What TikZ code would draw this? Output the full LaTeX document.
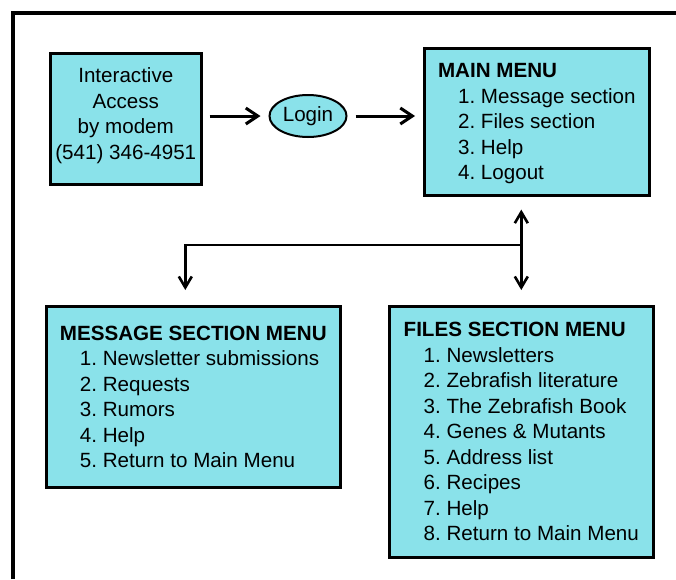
\documentclass[tikz,border=0pt]{standalone}
\usepackage{fontspec}
\setmainfont{Liberation Sans}
\usepackage{tikz}
\usetikzlibrary{arrows.meta,positioning,shapes.geometric}
\definecolor{menucyan}{RGB}{138,226,234}
\newcommand{\opt}{\hspace*{20pt}}
\frenchspacing

\begin{document}
\begin{tikzpicture}[x=1pt,y=-1pt,
  box/.style={draw,line width=2.6pt,fill=menucyan,anchor=north west,align=left,inner sep=0pt,font=\fontsize{20.6}{25.5}\selectfont},
  arr/.style={line width=3pt,-{Straight Barb[length=12pt,width=16pt]}},
  link/.style={line width=2.6pt,-{Straight Barb[length=11pt,width=13pt]}}]
  \useasboundingbox (0,0) rectangle (676,579);
  % page frame
  \draw[line width=4pt] (12.5,579) |- (676,12.5);
  \node[box,minimum width=151pt,minimum height=131pt,align=center,text depth=11pt] (modem) at (49,52)
    {Interactive\\Access\\by modem\\(541) 346-4951};
  \node[draw,ellipse,line width=2pt,fill=menucyan,minimum width=77pt,minimum height=42pt,inner sep=0pt,
    font=\fontsize{20.6}{25.5}\selectfont] (login) at (308,116) {Login};
  \node[box,minimum width=225pt,minimum height=147pt,text depth=0pt] (main) at (423,47)
    {\textbf{MAIN MENU}\\\opt 1. Message section\\\opt 2. Files section\\\opt 3. Help\\\opt 4. Logout};
  \node[box,minimum width=294pt,minimum height=181pt] (msg) at (45,305)
    {\textbf{MESSAGE SECTION MENU}\\\opt 1. Newsletter submissions\\\opt 2. Requests\\\opt 3. Rumors\\\opt 4. Help\\\opt 5. Return to Main Menu};
  \node[box,minimum width=264pt,minimum height=251pt] (files) at (388,305)
    {\textbf{FILES SECTION MENU}\\\opt 1. Newsletters\\\opt 2. Zebrafish literature\\\opt 3. The Zebrafish Book\\\opt 4. Genes \& Mutants\\\opt 5. Address list\\\opt 6. Recipes\\\opt 7. Help\\\opt 8. Return to Main Menu};
  % connectors
  \draw[arr,shorten <=7pt,shorten >=8pt] (modem.east |- login.west) -- (login.west);
  \draw[arr,shorten <=8pt,shorten >=8pt] (login.east) -- (login.east -| main.west);
  \coordinate (hub) at (files.north |- 0,245);
  \draw[link,{Straight Barb[length=11pt,width=13pt]}-{Straight Barb[length=11pt,width=13pt]}]
    ([yshift=-13pt]main.south -| files.north) -- ([yshift=15pt]files.north);
  \draw[link] (hub) -| ([xshift=-8pt,yshift=15pt]msg.north);
\end{tikzpicture}
\end{document}
